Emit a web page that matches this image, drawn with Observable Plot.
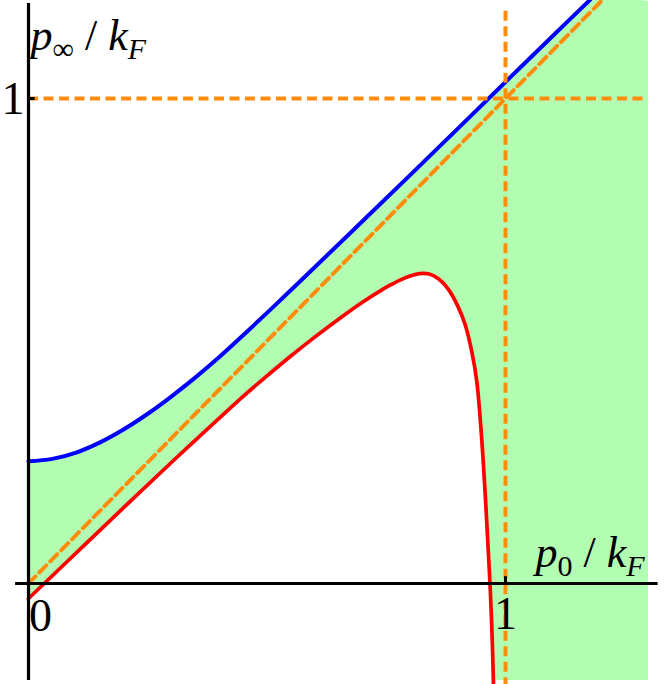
<!DOCTYPE html>
<html>
<head>
<meta charset="utf-8">
<script src="https://cdn.jsdelivr.net/npm/d3@7"></script>
<script src="https://cdn.jsdelivr.net/npm/@observablehq/plot@0.6"></script>
<style>
html, body { margin: 0; padding: 0; background: #ffffff; }
#chart svg { display: block; }
</style>
</head>
<body>
<div id="chart"></div>
<script>
// Upper bound curve (blue)
const blueX = [0, 0.05, 0.1, 0.15, 0.2, 0.25, 0.3, 0.35, 0.4, 0.45, 0.5, 0.6, 0.7, 0.8, 0.9, 1.0, 1.1, 1.18];
const blueY = [0.252, 0.257, 0.270, 0.291, 0.318, 0.350, 0.386, 0.425, 0.467, 0.512, 0.558, 0.652, 0.747, 0.842, 0.938, 1.034, 1.130, 1.206];
// Lower bound curve (red)
const redX = [0, 0.1, 0.2, 0.3, 0.4, 0.45, 0.5, 0.55, 0.6, 0.65, 0.7, 0.74, 0.76, 0.78, 0.8, 0.82, 0.84, 0.86, 0.88, 0.9, 0.915, 0.93, 0.94, 0.95, 0.958, 0.964, 0.968, 0.972, 0.975];
const redY = [-0.031, 0.063, 0.157, 0.250, 0.341, 0.386, 0.428, 0.469, 0.508, 0.545, 0.580, 0.605, 0.616, 0.626, 0.634, 0.639, 0.638, 0.628, 0.607, 0.572, 0.535, 0.475, 0.415, 0.300, 0.175, 0.065, -0.010, -0.110, -0.215];
// Region bounds of shaded area
const fillXMax = [1.3];
const fillYRange = [-0.2, 1.2];
// Reference (dashed) lines
const diagX = [0, 1.2];
const refX = [1];
const refY = [1];
// Ticks
const xTickValues = [0, 1];
const xTickLabels = ["0", "1"];
const yTickValues = [1];
const yTickLabels = ["1"];
// Axis labels (rich text parts)
const xLabelParts = [["p", "i"], ["0", "sub"], [" / ", ""], ["k", "i"], ["F", "isub"]];
const yLabelParts = [["p", "i"], ["∞", "sub"], [" / ", ""], ["k", "i"], ["F", "isub"]];
const xLabel = xLabelParts.map(d => d[0]).join("");
const yLabel = yLabelParts.map(d => d[0]).join("");

const blue = blueX.map((x, i) => ({x, y: blueY[i]}));
const red = redX.map((x, i) => ({x, y: redY[i]}));
const greenTop = blue.map(d => ({x: d.x, y: Math.min(d.y, fillYRange[1])}))
  .concat([{x: fillXMax[0], y: fillYRange[1]}]);
const diag = diagX.map(x => ({x, y: x}));

const orange = "#ff8c0a";
const serif = "Liberation Serif, Times New Roman, serif";
const curve = "catmull-rom";

const plot = Plot.plot({
  width: 665,
  height: 684,
  margin: 0,
  x: {domain: [-28 / 477, 637 / 477], axis: null},
  y: {domain: [-101 / 485, 583 / 485], axis: null},
  style: {background: "#ffffff"},
  marks: [
    Plot.areaY(greenTop, {x: "x", y1: fillYRange[0], y2: "y", fill: "#b3fdb3", curve}),
    Plot.areaY(red, {x: "x", y1: -0.215, y2: "y", fill: "#ffffff", curve}),
    Plot.line(blue, {x: "x", y: "y", stroke: "#0000ff", strokeWidth: 4, curve, clip: true}),
    Plot.line(red, {x: "x", y: "y", stroke: "#ff0000", strokeWidth: 3.7, curve, clip: true}),
    Plot.line(diag, {x: "x", y: "y", stroke: orange, strokeWidth: 4, strokeDasharray: "10,5.5", clip: true}),
    Plot.ruleY(refY, {x1: 0, x2: fillXMax[0], stroke: orange, strokeWidth: 4, strokeDasharray: "10,5.5"}),
    Plot.ruleX(refX, {y1: -0.215, y2: 1.19, stroke: orange, strokeWidth: 4, strokeDasharray: "10,5.5"}),
    Plot.ruleX([0], {y1: -0.2, y2: 1.196, stroke: "#000", strokeWidth: 3.2}),
    Plot.ruleY([0], {x1: -0.027, x2: 1.32, stroke: "#000", strokeWidth: 3.2}),
    Plot.ruleX(xTickValues.filter(v => v !== 0), {y1: 0, y2: 0.014, stroke: "#000", strokeWidth: 3}),
    Plot.ruleY(yTickValues, {x1: 0, x2: 0.014, stroke: "#000", strokeWidth: 3}),
    Plot.text(xTickValues.filter(v => v === 0), {x: d => d, y: 0, text: () => xTickLabels[0], dx: 12, dy: 47, lineAnchor: "bottom", textAnchor: "middle", fontSize: 46, fontFamily: serif, fill: "#000"}),
    Plot.text(xTickValues.filter(v => v !== 0), {x: d => d, y: 0, text: () => xTickLabels[1], dx: 0, dy: 45, lineAnchor: "bottom", textAnchor: "middle", fontSize: 46, fontFamily: serif, fill: "#000"}),
    Plot.text(yTickValues, {x: 0, y: d => d, text: (d, i) => yTickLabels[i], dx: -15.5, dy: 15, lineAnchor: "bottom", textAnchor: "middle", fontSize: 46, fontFamily: serif, fill: "#000"}),
    Plot.text([yLabel], {x: 0, y: 1.1, text: d => d, dx: 2, lineAnchor: "bottom", textAnchor: "start", fontSize: 44, fontFamily: serif, fill: "#000"}),
    Plot.text([xLabel], {x: 1.063, y: 0.035, text: d => d, lineAnchor: "bottom", textAnchor: "start", fontSize: 44, fontFamily: serif, fill: "#000"})
  ]
});

// Turn axis labels into rich text (italics + subscripts)
const partsByLabel = {[xLabel]: xLabelParts, [yLabel]: yLabelParts};
plot.querySelectorAll("text").forEach(t => {
  const parts = partsByLabel[t.textContent];
  if (!parts) return;
  t.textContent = "";
  const ns = "http://www.w3.org/2000/svg";
  let shifted = 0;
  parts.forEach(([s, kind]) => {
    const ts = document.createElementNS(ns, "tspan");
    ts.textContent = s;
    const isSub = kind === "sub" || kind === "isub";
    if (kind === "i" || kind === "isub") ts.setAttribute("font-style", "italic");
    if (isSub) {
      ts.setAttribute("font-size", "30px");
      if (!shifted) { ts.setAttribute("dy", "9"); shifted = 9; }
    } else if (shifted) {
      ts.setAttribute("dy", String(-shifted));
      shifted = 0;
    }
    t.appendChild(ts);
  });
  t.setAttribute("xml:space", "preserve");
  t.style.whiteSpace = "pre";
});

document.getElementById("chart").appendChild(plot);
</script>
</body>
</html>
